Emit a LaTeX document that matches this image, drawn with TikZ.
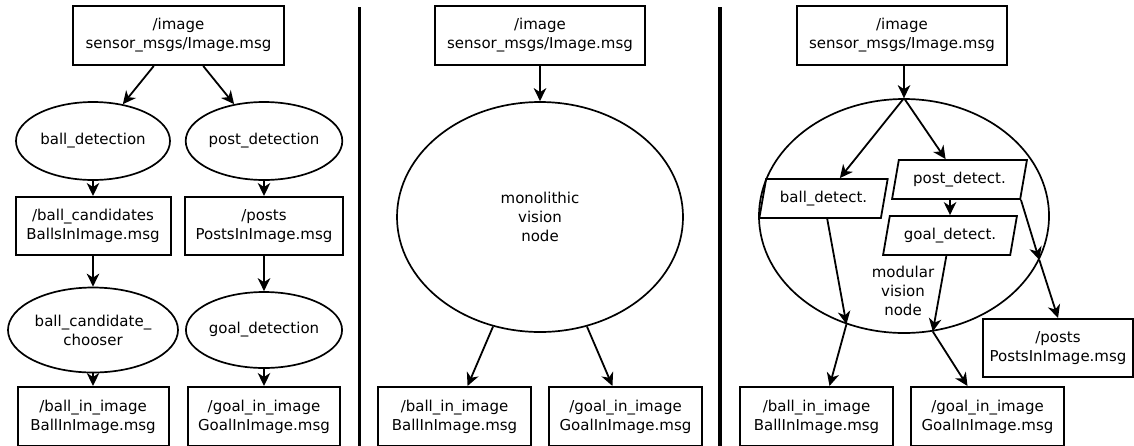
\documentclass[tikz,border=0pt]{standalone}
\usepackage{fontspec}
\setmainfont{DejaVu Sans}
\usetikzlibrary{shapes.geometric,arrows.meta}
\tikzset{
  every node/.style={font=\fontsize{15}{19}\selectfont, align=center, inner sep=0pt},
  msgbox/.style={draw, line width=2pt, rectangle, minimum height=59pt},
  proc/.style={draw, line width=1.7pt, ellipse},
  para/.style={draw, line width=1.8pt, trapezium, trapezium left angle=71, trapezium right angle=109, trapezium stretches=true, minimum height=39pt},
  arr/.style={line width=1.8pt, -{Stealth[length=13pt, width=12.5pt, inset=4pt]}},
  sep/.style={line width=3.2pt}
}
\begin{document}
\begin{tikzpicture}[x=1pt,y=-1pt]
\useasboundingbox (0,0) rectangle (1134,445);
\clip (0,0) rectangle (1134,445);

% ---------------- left panel ----------------
\node[msgbox, minimum width=211pt] (img1) at (178.5,35.5) {/image\\sensor\_msgs/Image.msg};
\node[proc, minimum width=154pt, minimum height=78pt] (bd) at (93,141) {ball\_detection};
\node[proc, minimum width=156pt, minimum height=78pt] (pd) at (264,141) {post\_detection};
\node[msgbox, minimum width=155pt, minimum height=58pt] (bc) at (93,226) {/ball\_candidates\\BallsInImage.msg};
\node[msgbox, minimum width=158pt, minimum height=58pt] (po1) at (264,226) {/posts\\PostsInImage.msg};
\node[proc, minimum width=170pt, minimum height=85pt] (bcc) at (93,330) {ball\_candidate\_\\chooser};
\node[proc, minimum width=152pt, minimum height=76pt] (gd) at (264,330) {goal\_detection};
\node[msgbox, minimum width=151pt] (bii1) at (93,416.5) {/ball\_in\_image\\BallInImage.msg};
\node[msgbox, minimum width=152pt] (gii1) at (264,416.5) {/goal\_in\_image\\GoalInImage.msg};

\draw[arr] (img1) -- (bd);
\draw[arr] (img1) -- (pd);
\draw[arr] (bd) -- (bc);
\draw[arr] (pd) -- (po1);
\draw[arr] (bc) -- (bcc);
\draw[arr] (po1) -- (gd);
\draw[arr] (bcc) -- (bii1);
\draw[arr] (gd) -- (gii1);

\coordinate (s1t) at (359.5,7);
\coordinate (s1b) at (359.5,450);
\draw[sep] (s1t) -- (s1b);

% ---------------- middle panel ----------------
\node[msgbox, minimum width=210pt] (img2) at (540,35.5) {/image\\sensor\_msgs/Image.msg};
\node[proc, minimum width=286pt, minimum height=230pt] (mono) at (540,217) {monolithic\\vision\\node};
\node[msgbox, minimum width=153pt] (bii2) at (454.5,416.5) {/ball\_in\_image\\BallInImage.msg};
\node[msgbox, minimum width=153pt] (gii2) at (625.5,416.5) {/goal\_in\_image\\GoalInImage.msg};

\draw[arr] (img2) -- (mono);
\draw[arr] (mono) -- (bii2);
\draw[arr] (mono) -- (gii2);

\coordinate (s2t) at (720,7);
\coordinate (s2b) at (720,450);
\draw[sep] (s2t) -- (s2b);

% ---------------- right panel ----------------
\node[msgbox, minimum width=210pt] (img3) at (902,35.5) {/image\\sensor\_msgs/Image.msg};
\node[proc, minimum width=290pt, minimum height=234pt] (mod) at (904,216) {};
\node (modl) at (903,291) {modular\\vision\\node};
\node[para, minimum width=129pt] (bdt) at (823.5,198.5) {ball\_detect.};
\node[para, minimum width=135pt] (pdt) at (959.5,179.5) {post\_detect.};
\node[para, minimum width=134pt] (gdt) at (950,235.5) {goal\_detect.};
\node[msgbox, minimum width=150pt, minimum height=58pt] (po2) at (1058,348) {/posts\\PostsInImage.msg};
\node[msgbox, minimum width=153pt] (bii3) at (816.5,416.5) {/ball\_in\_image\\BallInImage.msg};
\node[msgbox, minimum width=153pt] (gii3) at (987.5,416.5) {/goal\_in\_image\\GoalInImage.msg};

\coordinate (mtop) at (mod.north);
\coordinate (mb) at (mod.242);
\coordinate (mg) at (mod.284);
\coordinate (mp) at (mod.342);

\draw[arr] (img3.south -| mtop) -- (mtop);
\draw[arr] (mtop) -- (bdt);
\draw[arr] (mtop) -- (pdt);
\draw[arr] (pdt.south -| gdt.north) -- (gdt.north);
\draw[arr] (bdt) -- (mb);
\draw[arr] (mb) -- ([xshift=13pt]bii3.north);
\draw[arr] (gdt) -- (mg);
\draw[arr] (mg) -- ([xshift=-20pt]gii3.north);
\draw[arr] (pdt.bottom right corner) -- (mp);
\draw[arr] (mp) -- (po2.north);
\end{tikzpicture}
\end{document}
